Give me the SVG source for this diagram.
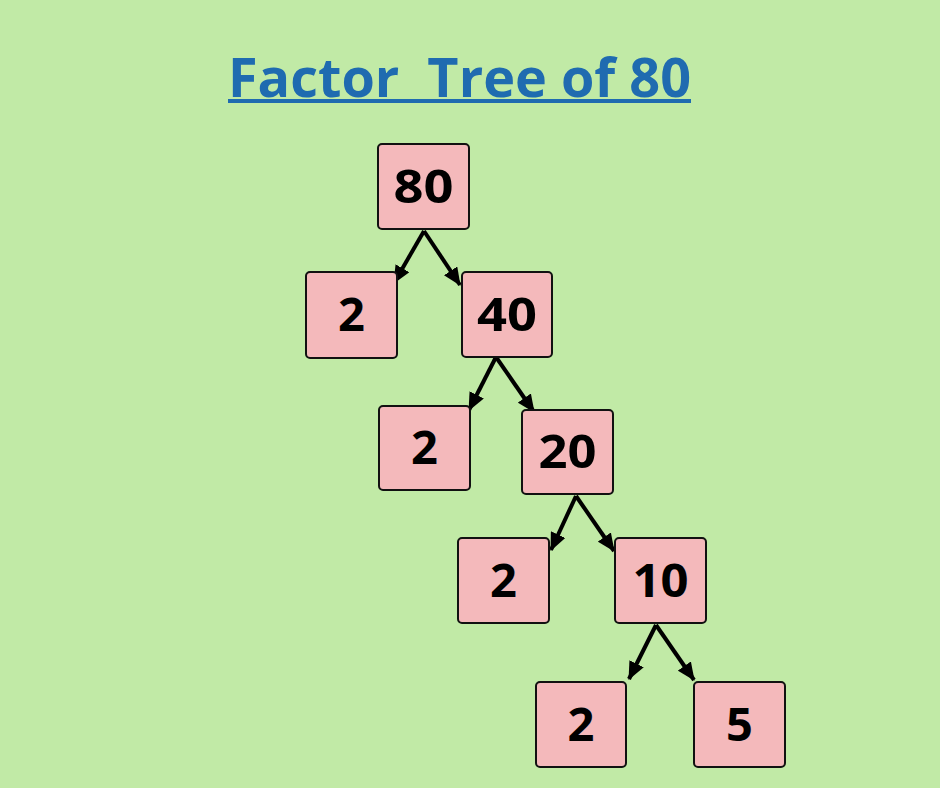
<svg xmlns="http://www.w3.org/2000/svg" width="940" height="788" viewBox="0 0 940 788">
<style>
.box{fill:#f4b9bb;stroke:#111;stroke-width:2}
.num{font-family:"Open Sans","Liberation Sans",sans-serif;font-weight:700;font-size:47px;fill:#000;text-anchor:middle}
.title{font-family:"Open Sans","Liberation Sans",sans-serif;font-weight:700;font-size:53px;fill:#1f6bb0;text-anchor:middle}
.edge{stroke:#000;stroke-width:4;fill:none;marker-end:url(#ah)}
</style>
<defs>
<marker id="ah" markerUnits="userSpaceOnUse" markerWidth="18" markerHeight="16" viewBox="0 0 18 16" refX="17" refY="8" orient="auto">
<path d="M0,0 L18,8 L0,16 z" fill="#000"/>
</marker>
</defs>
<rect width="940" height="788" fill="#c1eaa6"/>
<g id="title">
<text class="title" x="459.5" y="97" textLength="463" lengthAdjust="spacingAndGlyphs" xml:space="preserve">Factor  Tree of 80</text>
<rect x="228" y="99" width="463" height="4" fill="#1f6bb0"/>
</g>
<g id="connectors">
<line class="edge" x1="424" y1="231" x2="394" y2="283"/>
<line class="edge" x1="424" y1="231" x2="460" y2="285"/>
<line class="edge" x1="496" y1="357" x2="469" y2="410"/>
<line class="edge" x1="496" y1="357" x2="534" y2="412"/>
<line class="edge" x1="576" y1="496" x2="551" y2="550"/>
<line class="edge" x1="576" y1="496" x2="614" y2="551"/>
<line class="edge" x1="656" y1="625" x2="629" y2="679"/>
<line class="edge" x1="656" y1="625" x2="694" y2="680"/>
</g>
<g id="n80"><rect class="box" x="378" y="144" width="91" height="85" rx="4"/><text class="num" x="423.5" y="203" textLength="60" lengthAdjust="spacingAndGlyphs">80</text></g>
<g id="n2a"><rect class="box" x="306" y="272" width="91" height="86" rx="4"/><text class="num" x="351.5" y="331">2</text></g>
<g id="n40"><rect class="box" x="462" y="272" width="90" height="85" rx="4"/><text class="num" x="507" y="331" textLength="60" lengthAdjust="spacingAndGlyphs">40</text></g>
<g id="n2b"><rect class="box" x="379" y="406" width="91" height="84" rx="4"/><text class="num" x="424.5" y="464">2</text></g>
<g id="n20"><rect class="box" x="522" y="410" width="91" height="84" rx="4"/><text class="num" x="567.5" y="468" textLength="58" lengthAdjust="spacingAndGlyphs">20</text></g>
<g id="n2c"><rect class="box" x="458" y="538" width="91" height="85" rx="4"/><text class="num" x="503.5" y="597">2</text></g>
<g id="n10"><rect class="box" x="615" y="538" width="91" height="85" rx="4"/><text class="num" x="660.5" y="597" textLength="56" lengthAdjust="spacingAndGlyphs">10</text></g>
<g id="n2d"><rect class="box" x="536" y="682" width="90" height="85" rx="4"/><text class="num" x="581" y="741">2</text></g>
<g id="n5"><rect class="box" x="694" y="682" width="91" height="85" rx="4"/><text class="num" x="739.5" y="741">5</text></g>
</svg>
